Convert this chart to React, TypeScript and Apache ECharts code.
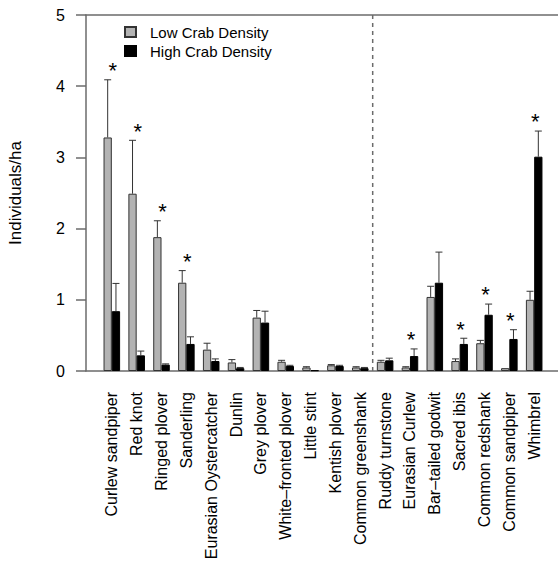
import React, { useEffect, useRef } from "react";
import * as echarts from "echarts";

const categories = [
  "Curlew sandpiper",
  "Red knot",
  "Ringed plover",
  "Sanderling",
  "Eurasian Oystercatcher",
  "Dunlin",
  "Grey plover",
  "White\u2013fronted plover",
  "Little stint",
  "Kentish plover",
  "Common greenshank",
  "Ruddy turnstone",
  "Eurasian Curlew",
  "Bar\u2013tailed godwit",
  "Sacred ibis",
  "Common redshank",
  "Common sandpiper",
  "Whimbrel",
];

const lowDensity = [3.28, 2.49, 1.88, 1.24, 0.3, 0.12, 0.75, 0.13, 0.05, 0.08, 0.05, 0.13, 0.05, 1.04, 0.14, 0.39, 0.04, 1.0];
const lowSE = [0.81, 0.75, 0.23, 0.17, 0.09, 0.04, 0.1, 0.02, 0.01, 0.01, 0.01, 0.02, 0.01, 0.15, 0.03, 0.04, 0.0, 0.12];
const highDensity = [0.84, 0.22, 0.09, 0.38, 0.14, 0.04, 0.68, 0.07, 0.01, 0.07, 0.04, 0.15, 0.21, 1.24, 0.38, 0.79, 0.45, 3.01];
const highSE = [0.39, 0.06, 0.01, 0.1, 0.03, 0.01, 0.16, 0.01, 0.0, 0.01, 0.01, 0.03, 0.1, 0.43, 0.08, 0.15, 0.13, 0.36];
const significant = [true, true, true, true, false, false, false, false, false, false, false, false, true, false, true, true, true, true];
const dividerBefore = "Ruddy turnstone";

const yMin = 0;
const yMax = 5;
const yInterval = 1;

const FONT = "'Liberation Sans', Arial, Helvetica, sans-serif";
const AXIS_GREY = "#6b6b6b";

export default function App() {
  const ref = useRef<HTMLDivElement>(null);

  useEffect(() => {
    document.body.style.margin = "0";
    if (!ref.current) return;
    const chart = echarts.init(ref.current, null, { renderer: "svg" });

    const errData = categories.map((_, i) => [i, lowDensity[i], lowSE[i], highDensity[i], highSE[i]]);
    const starData = categories
      .map((_, i) => [i, Math.max(lowDensity[i] + lowSE[i], highDensity[i] + highSE[i]) + 0.2, significant[i] ? 1 : 0])
      .filter((d) => d[2] === 1);
    const dividerIdx = categories.indexOf(dividerBefore);

    const option: any = {
      animation: false,
      textStyle: { fontFamily: FONT },
      grid: [
        { left: 99.4, width: 447.2, top: 15, bottom: 192, containLabel: false, outerBoundsMode: "none" },
        { left: 86, width: 474, top: 15, bottom: 192, containLabel: false, outerBoundsMode: "none" },
      ],
      legend: {
        data: ["Low Crab Density", "High Crab Density"],
        orient: "vertical",
        left: 124,
        top: 24,
        padding: 0,
        itemWidth: 11,
        itemHeight: 10,
        itemGap: 3,
        icon: "rect",
        textStyle: { fontSize: 15, color: "#000", fontFamily: FONT, padding: [0, 0, 0, 9], lineHeight: 16 },
      },
      xAxis: [
        {
          type: "category",
          gridIndex: 0,
          data: categories,
          axisLine: { show: false },
          axisTick: { show: false },
          axisLabel: { rotate: 90, interval: 0, margin: 21, fontSize: 16, color: "#000", fontFamily: FONT },
          splitLine: { show: false },
        },
        {
          type: "value",
          gridIndex: 1,
          position: "bottom",
          min: 0,
          max: 1,
          axisLine: { show: true, lineStyle: { color: AXIS_GREY, width: 1.5 } },
          axisTick: { show: false },
          axisLabel: { show: false },
          splitLine: { show: false },
        },
        {
          type: "value",
          gridIndex: 1,
          position: "top",
          min: 0,
          max: 1,
          axisLine: { show: true, lineStyle: { color: AXIS_GREY, width: 1.5 } },
          axisTick: { show: false },
          axisLabel: { show: false },
          splitLine: { show: false },
        },
      ],
      yAxis: [
        { type: "value", gridIndex: 0, min: yMin, max: yMax, show: false },
        {
          type: "value",
          gridIndex: 1,
          min: yMin,
          max: yMax,
          interval: yInterval,
          axisLine: { show: true, lineStyle: { color: AXIS_GREY, width: 1.5 } },
          axisTick: { show: true, length: 10, lineStyle: { color: AXIS_GREY, width: 1.5 } },
          axisLabel: { margin: 21, fontSize: 16, color: "#000", fontFamily: FONT },
          splitLine: { show: false },
          name: "Individuals/ha",
          nameLocation: "middle",
          nameGap: 62,
          nameTextStyle: { fontSize: 17, color: "#000", fontFamily: FONT },
        },
      ],
      series: [
        {
          name: "Low Crab Density",
          type: "bar",
          xAxisIndex: 0,
          yAxisIndex: 0,
          data: lowDensity,
          barWidth: "33.333%",
          barGap: "0%",
          itemStyle: { color: "#b3b3b3", borderColor: "#333", borderWidth: 1 },
        },
        {
          name: "High Crab Density",
          type: "bar",
          xAxisIndex: 0,
          yAxisIndex: 0,
          data: highDensity,
          barWidth: "33.333%",
          barGap: "0%",
          itemStyle: { color: "#000", borderColor: "#000", borderWidth: 1 },
        },
        {
          name: "errors",
          type: "custom",
          xAxisIndex: 0,
          yAxisIndex: 0,
          data: errData,
          clip: false,
          z: 5,
          renderItem: (params: any, api: any) => {
            const k = api.value(0);
            const band = api.size([1, 0])[0];
            const w = band / 3;
            const children: any[] = [];
            const pairs = [
              [api.value(1), api.value(2), -w / 2],
              [api.value(3), api.value(4), w / 2],
            ];
            pairs.forEach(([m, se, off]) => {
              if (se <= 0) return;
              const p0 = api.coord([k, m]);
              const p1 = api.coord([k, m + se]);
              const x = p0[0] + off;
              const st = { stroke: "#333", lineWidth: 1 };
              children.push({ type: "line", shape: { x1: x, y1: p0[1], x2: x, y2: p1[1] }, style: st });
              children.push({ type: "line", shape: { x1: x - 3.5, y1: p1[1], x2: x + 3.5, y2: p1[1] }, style: st });
            });
            return { type: "group", children };
          },
        },
        {
          name: "stars",
          type: "custom",
          xAxisIndex: 0,
          yAxisIndex: 0,
          data: starData,
          clip: false,
          z: 6,
          renderItem: (params: any, api: any) => {
            const p = api.coord([api.value(0), api.value(1)]);
            return {
              type: "text",
              x: p[0] + 1,
              y: p[1] + 5,
              style: {
                text: "*",
                fontSize: 22,
                fontFamily: FONT,
                fill: "#000",
                align: "center",
                verticalAlign: "middle",
              },
            };
          },
        },
        {
          name: "divider",
          type: "custom",
          xAxisIndex: 0,
          yAxisIndex: 0,
          data: [[dividerIdx]],
          clip: false,
          z: 4,
          renderItem: (params: any, api: any) => {
            const k = api.value(0);
            const band = api.size([1, 0])[0];
            const top = api.coord([k, yMax]);
            const bot = api.coord([k, yMin]);
            const x = top[0] - band / 2;
            return {
              type: "line",
              shape: { x1: x, y1: top[1], x2: x, y2: bot[1] },
              style: { stroke: AXIS_GREY, lineWidth: 1.5, lineDash: [4, 4] },
            };
          },
        },
      ],
    };

    chart.setOption(option);
    return () => chart.dispose();
  }, []);

  return <div ref={ref} style={{ width: 558, height: 563 }} />;
}
